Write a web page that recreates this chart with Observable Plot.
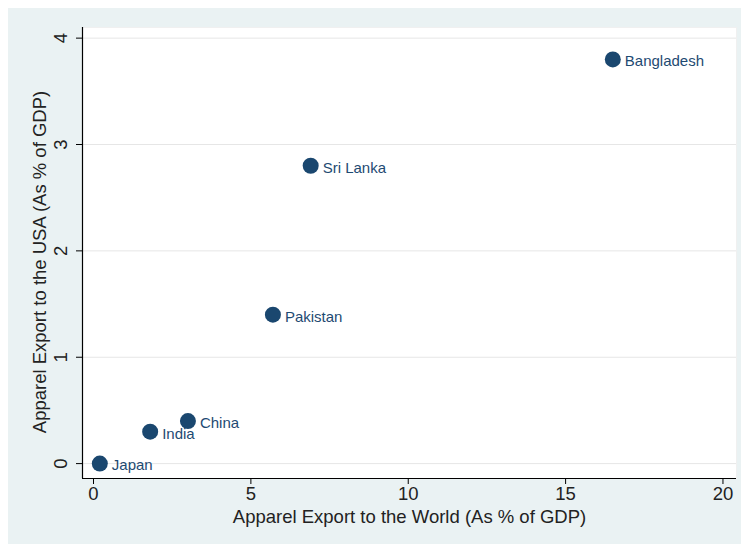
<!DOCTYPE html>
<html>
<head>
<meta charset="utf-8">
<script src="https://cdn.jsdelivr.net/npm/d3@7"></script>
<script src="https://cdn.jsdelivr.net/npm/@observablehq/plot@0.6"></script>
<style>
  html, body { margin: 0; padding: 0; background: #ffffff; }
  #wrap { position: relative; width: 741px; height: 544px; overflow: hidden; }
  #bg { position: absolute; left: 8px; top: 8px; right: 0; bottom: 0; background: #eaf2f3; }
  #chart { position: absolute; left: 0; top: 0; }
</style>
</head>
<body>
<div id="wrap"><div id="bg"></div><div id="chart"></div></div>
<script>
const countries = ["Bangladesh", "Sri Lanka", "Pakistan", "China", "India", "Japan"];
const worldPct = [16.5, 6.9, 5.7, 3.0, 1.8, 0.2];
const usaPct = [3.8, 2.8, 1.4, 0.4, 0.3, 0.0];
const xTicks = [0, 5, 10, 15, 20];
const yTicks = [0, 1, 2, 3, 4];
const xDomain = [-0.35, 20.43];
const yDomain = [-0.14, 4.1];
const xTitle = "Apparel Export to the World (As % of GDP)";
const yTitle = "Apparel Export to the USA (As % of GDP)";

const data = countries.map((c, i) => ({country: c, world: worldPct[i], usa: usaPct[i]}));
const navy = "#1a476f";
const font = "Liberation Sans, Arial, sans-serif";

const chart = Plot.plot({
  width: 741,
  height: 544,
  marginLeft: 82,
  marginRight: 5,
  marginTop: 27,
  marginBottom: 66,
  style: {background: "transparent", fontFamily: font},
  x: {domain: xDomain, ticks: xTicks},
  y: {domain: yDomain, ticks: yTicks},
  marks: [
    Plot.frame({fill: "white", stroke: "#f0f0f0"}),
    Plot.gridY(yTicks, {stroke: "#e6e6e6", strokeOpacity: 1}),
    Plot.ruleX([xDomain[0]], {stroke: "#000", strokeWidth: 1.2}),
    Plot.ruleY([yDomain[0]], {stroke: "#000", strokeWidth: 1.2}),
    Plot.axisX(xTicks, {tickSize: 6, tickPadding: 2, fontSize: 18.5, fill: "#222", stroke: "#000", label: null}),
    Plot.axisY(yTicks, {tickSize: 6, tickFormat: () => "", label: null, stroke: "#000"}),
    Plot.text(yTicks, {y: d => d, text: d => String(d), frameAnchor: "left", dx: -21, rotate: -90, fontSize: 18.5, fill: "#222", textAnchor: "middle", lineAnchor: "middle"}),
    Plot.text([yTitle], {frameAnchor: "left", dx: -42, dy: 9, rotate: -90, fontSize: 18.5, fill: "#222", textAnchor: "middle", lineAnchor: "middle"}),
    Plot.text([xTitle], {frameAnchor: "bottom", dy: 39, fontSize: 18.5, fill: "#222", textAnchor: "middle", lineAnchor: "middle"}),
    Plot.dot(data, {x: "world", y: "usa", r: 8, fill: navy, stroke: "none"}),
    Plot.text(data, {x: "world", y: "usa", text: "country", dx: 12, dy: 2, textAnchor: "start", fontSize: 15, fill: "#1e4a72"})
  ]
});
document.getElementById("chart").appendChild(chart);
</script>
</body>
</html>
